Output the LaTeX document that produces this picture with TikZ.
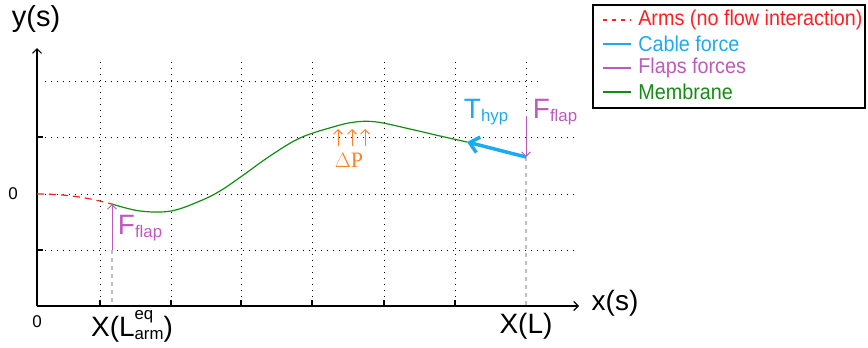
\documentclass[tikz,border=0pt]{standalone}
\usepackage{fontspec}
\setmainfont{Liberation Sans}
\newfontfamily\seriffont{Liberation Serif}
\usetikzlibrary{arrows.meta,positioning,calc}

\definecolor{armred}{RGB}{255,30,30}
\definecolor{cableblue}{RGB}{30,170,240}
\definecolor{flapviolet}{RGB}{190,90,190}
\definecolor{membgreen}{RGB}{20,140,20}
\definecolor{dporange}{RGB}{255,130,40}

\newcommand{\lowsub}[1]{\raisebox{-0.12em}{\scalebox{0.6}{#1}}}

\begin{document}
\begin{tikzpicture}[x=1pt,y=-1pt,>={Straight Barb[length=4.5pt,width=9pt]},semithick]
\tikzstyle{grid line}=[black, line width=1pt, dash pattern=on 1.3pt off 4.7pt]
\tikzstyle{axis label}=[font=\fontsize{28}{32}\selectfont, inner sep=0pt]
\tikzstyle{force label}=[font=\fontsize{28}{32}\selectfont, inner sep=0pt]
\tikzstyle{legend text}=[font=\fontsize{21.5}{24}\selectfont, inner sep=0pt, anchor=west]
\tikzstyle{guide}=[gray!50, line width=1.2pt, dash pattern=on 4pt off 4pt]
\tikzstyle{legend dash}=[dash pattern=on 4pt off 5pt]

\useasboundingbox (0,0) rectangle (868,348);

% axes
\coordinate (O) at (37,306);
\coordinate (xend) at (579,306);
\coordinate (yend) at (37,48);

% grid
\foreach \gx in {100,171,241,312,384,455}
  \draw[grid line] (\gx,62) -- (\gx,306);
\draw[grid line] (526,62) -- (526,116);
\draw[grid line] (45,81) -- (542,81);
\foreach \gy in {137,194,250}
  \draw[grid line] (45,\gy) -- (578,\gy);

\draw[->, line width=1.1pt] (O) -- (xend);
\draw[->, line width=1.1pt] (O) -- (yend);
\foreach \gx in {100,171,241,312,384,455}
  \draw[line width=1.1pt] (\gx,306) -- (\gx,300);
\foreach \gy in {137,250}
  \draw[line width=1.1pt] (37,\gy) -- (43,\gy);

\node[axis label, font=\fontsize{29}{32}\selectfont] (ylab) at (36,19) {y(s)};
\node[axis label] (xlab) at (615,303) {x(s)};
\node[font=\fontsize{17}{20}\selectfont, inner sep=0pt] (zeroy) at (13,194) {0};
\node[font=\fontsize{17}{20}\selectfont, inner sep=0pt] (zerox) at (37,322) {0};
\node[axis label] (xarm) at (132,326) {X(L\rlap{\raisebox{0.6em}{\scalebox{0.6}{eq}}}\lowsub{arm})};
\node[axis label] (xl) at (526,326) {X(L)};

% membrane and arms
\coordinate (A) at (37,194);
\coordinate (armend) at (112,204);
\coordinate (memend) at (467,142);
\coordinate (tip) at (526,157);
\draw[armred, line width=1.2pt, dash pattern=on 7pt off 5pt] (A) .. controls (75,194) and (95,200) .. (armend);
\draw[membgreen, line width=1.2pt] plot[smooth, tension=0.6] coordinates
  {(112,204) (140,211) (171,211) (200,201) (220,191) (242,176) (270,156) (300,138) (333,127) (355,122) (377,122) (410,129) (440,136) (467,142)};

% guides
\draw[guide] (112,250) -- (112,306);
\draw[guide] (tip) -- (526,306);

% flap forces
\coordinate (flapL) at (112,250);
\coordinate (flapR) at (526,116);
\draw[->, flapviolet, line width=1pt] (flapL) -- (armend);
\draw[->, flapviolet, line width=1pt] (flapR) -- (tip);
\node[force label, text=flapviolet] (fl) at (140,228) {F\lowsub{flap}};
\node[force label, text=flapviolet] (fr) at (555,112) {F\lowsub{flap}};

% cable force
\draw[-{Straight Barb[length=9pt,width=16pt]}, cableblue, line width=3.5pt] (tip) -- (memend);
\node[force label, text=cableblue] (thyp) at (486,112) {T\lowsub{hyp}};

% pressure
\foreach \px in {338,352,365}
  \draw[->, dporange, line width=1pt] (\px,146) -- (\px,129);
\node[font=\fontsize{22}{24}\seriffont, text=dporange, inner sep=0pt] (dp) at (349,160) {$\Delta$P};

% legend
\node[draw, line width=1.2pt, minimum width=272pt, minimum height=103pt, inner sep=0pt] (leg) at (729,56.5) {};
\foreach \i/\c/\t/\s in {0/armred/{Arms (no flow interaction)}/legend dash,1/cableblue/{Cable force}/solid,2/flapviolet/{Flaps forces}/solid,3/membgreen/Membrane/solid}{
  \draw[\c, line width=1.2pt, \s] (603,20+24*\i) -- (631,20+24*\i);
  \node[legend text, text=\c] at (638,20+24*\i) {\scalebox{0.92}[1]{\t}};
}

\end{tikzpicture}
\end{document}
